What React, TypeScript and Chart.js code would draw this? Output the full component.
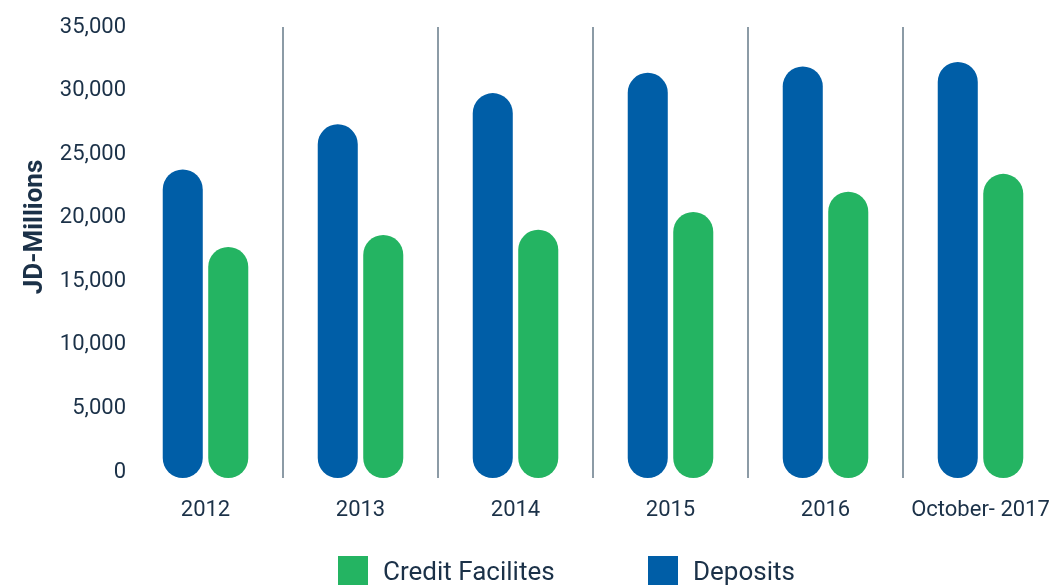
import React, { useEffect, useRef } from 'react';
import { Chart, registerables } from 'chart.js';

Chart.register(...registerables);

const CATEGORIES = ['2012', '2013', '2014', '2015', '2016', 'October- 2017'];
const DEPOSITS = [23800, 27350, 29800, 31400, 31900, 32250];
const CREDIT = [17700, 18650, 19050, 20450, 22050, 23450];
const Y_TICKS = [0, 5000, 10000, 15000, 20000, 25000, 30000, 35000];
const Y_MIN = -470;
const Y_MAX = 35000;
const Y_TITLE = 'JD-Millions';

const BLUE = '#005EA7';
const GREEN = '#24B462';
const TEXT = '#1B3148';
const SEP = '#8C9BA6';
const FONT = 'Roboto';

const LEGEND_ITEMS = [
  { label: 'Credit Facilites', color: GREEN },
  { label: 'Deposits', color: BLUE },
];

const yTitlePlugin = {
  id: 'yTitle',
  afterDraw(chart: any) {
    const { ctx } = chart;
    ctx.save();
    ctx.translate(42, 227);
    ctx.rotate(-Math.PI / 2);
    ctx.font = `bold 26px ${FONT}`;
    ctx.fillStyle = TEXT;
    ctx.textAlign = 'center';
    ctx.textBaseline = 'alphabetic';
    ctx.fillText(Y_TITLE, 0, 0);
    ctx.restore();
  },
};

export default function App() {
  const canvasRef = useRef<HTMLCanvasElement | null>(null);

  useEffect(() => {
    if (!canvasRef.current) return;
    const chart = new Chart(canvasRef.current, {
      type: 'bar',
      data: {
        labels: CATEGORIES,
        datasets: [
          {
            label: 'Deposits',
            data: DEPOSITS,
            backgroundColor: BLUE,
            borderWidth: 0,
            borderRadius: 20,
            borderSkipped: false,
            base: Y_MIN,
          } as any,
          {
            label: 'Credit Facilites',
            data: CREDIT,
            backgroundColor: GREEN,
            borderWidth: 0,
            borderRadius: 20,
            borderSkipped: false,
            base: Y_MIN,
          } as any,
        ],
      },
      options: {
        animation: false,
        responsive: true,
        maintainAspectRatio: false,
        layout: { padding: { top: 27, right: 2, left: 0, bottom: 0 } },
        datasets: {
          bar: { categoryPercentage: 0.587, barPercentage: 0.88 },
        },
        plugins: {
          legend: { display: false },
          tooltip: { enabled: false },
        },
        scales: {
          x: {
            offset: true,
            border: { display: false },
            grid: {
              offset: true,
              drawTicks: false,
              lineWidth: 2,
              color: (c: any) => (c.type !== 'tick' || c.index === 0 ? 'rgba(0,0,0,0)' : SEP),
            },
            ticks: {
              color: TEXT,
              font: { family: FONT, size: 22 },
              padding: 19,
              maxRotation: 0,
              autoSkip: false,
            },
            afterFit: (scale: any) => {
              scale.height = 107;
            },
          },
          y: {
            min: Y_MIN,
            max: Y_MAX,
            border: { display: false },
            grid: { display: false, drawTicks: false },
            afterBuildTicks: (axis: any) => {
              axis.ticks = Y_TICKS.map((v) => ({ value: v }));
            },
            afterFit: (scale: any) => {
              scale.width = 128;
            },
            ticks: {
              color: TEXT,
              font: { family: FONT, size: 22 },
              padding: 2,
              callback: (v: any) => Number(v).toLocaleString('en-US'),
            },
          },
        },
      },
      plugins: [yTitlePlugin],
    });
    return () => chart.destroy();
  }, []);

  return (
    <div
      style={{
        position: 'absolute',
        left: 0,
        top: 0,
        width: 1053,
        height: 585,
        overflow: 'hidden',
        background: '#ffffff',
      }}
    >
      <div style={{ position: 'absolute', left: 0, top: 0, width: 1069, height: 585 }}>
        <canvas ref={canvasRef} />
      </div>
      <div
        style={{
          position: 'absolute',
          left: 338,
          top: 556,
          display: 'flex',
          fontFamily: FONT,
          fontSize: 26,
          color: TEXT,
        }}
      >
        {LEGEND_ITEMS.map((it, i) => (
          <div
            key={it.label}
            style={{ display: 'flex', alignItems: 'center', width: i === 0 ? 310 : 'auto' }}
          >
            <span
              style={{ display: 'inline-block', width: 30, height: 30, background: it.color, marginRight: 15 }}
            />
            <span style={{ lineHeight: '30px', whiteSpace: 'nowrap' }}>{it.label}</span>
          </div>
        ))}
      </div>
    </div>
  );
}
